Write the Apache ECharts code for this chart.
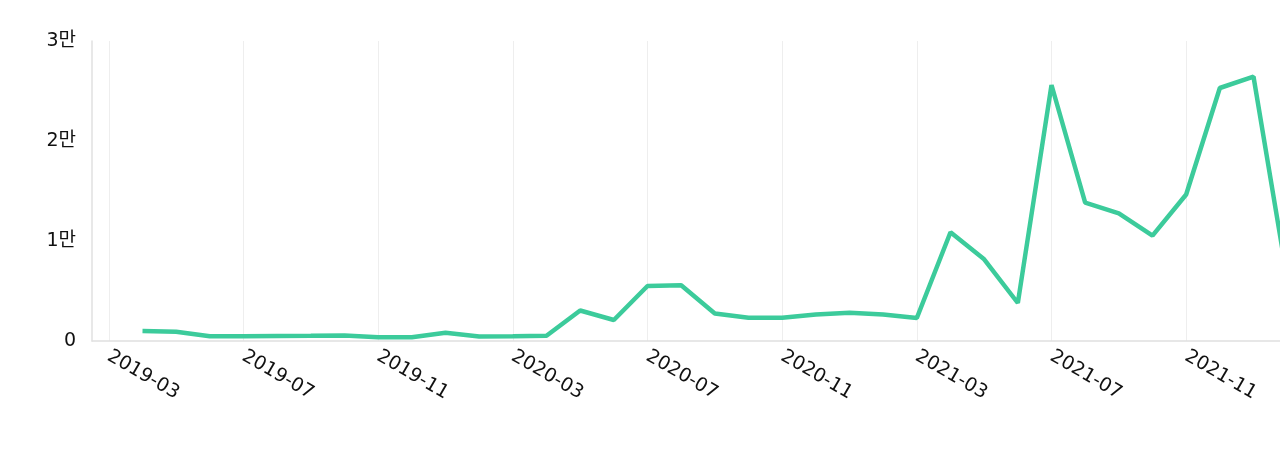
<!DOCTYPE html>
<html>
<head>
<meta charset="utf-8">
<script src="https://cdn.jsdelivr.net/npm/echarts@6/dist/echarts.min.js"></script>
<style>
html,body{margin:0;padding:0;background:#fff;overflow:hidden;width:1280px;height:454px;}
#chart{width:1304px;height:454px;}
</style>
</head>
<body>
<div id="chart"></div>
<script>
const months = ['2019-03','2019-04','2019-05','2019-06','2019-07','2019-08','2019-09','2019-10','2019-11','2019-12',
  '2020-01','2020-02','2020-03','2020-04','2020-05','2020-06','2020-07','2020-08','2020-09','2020-10','2020-11','2020-12',
  '2021-01','2021-02','2021-03','2021-04','2021-05','2021-06','2021-07','2021-08','2021-09','2021-10','2021-11','2021-12',
  '2022-01','2022-02'];
const values = [null,1000,930,480,480,500,520,560,380,380,
  820,450,470,520,3050,2100,5500,5570,2750,2320,2330,2650,
  2820,2650,2300,10870,8170,3800,25600,13830,12770,10530,14650,25300,
  26430,6300];
const yTicks = [0,10000,20000,30000];

const FONT = 'DejaVu Sans, Verdana, Noto Sans CJK KR, sans-serif';
const chart = echarts.init(document.getElementById('chart'));
chart.setOption({
  animation:false,
  grid:{left:92, top:41, bottom:113, right:0, containLabel:false},
  xAxis:{
    type:'category',
    data:months,
    boundaryGap:true,
    axisLine:{show:true, lineStyle:{color:'#e0e0e0', width:1.5}},
    axisTick:{show:false},
    axisLabel:{interval:3, rotate:-30, margin:14, color:'#111', fontSize:19, fontFamily:FONT},
    splitLine:{show:true, interval:3, alignWithLabel:true, lineStyle:{color:'#eeeeee', width:1}}
  },
  yAxis:{
    type:'value',
    min:yTicks[0], max:yTicks[yTicks.length-1], interval:10000,
    axisLine:{show:true, lineStyle:{color:'#e0e0e0', width:1.5}},
    axisTick:{show:false},
    splitLine:{show:false},
    axisLabel:{margin:16, color:'#111', fontSize:19, fontFamily:FONT,
      formatter:function(v){ return v===0 ? '0' : (v/10000)+'만'; }}
  },
  series:[{
    type:'line',
    data:values,
    showSymbol:false,
    symbol:'none',
    connectNulls:false,
    lineStyle:{color:'#3ccb9b', width:4.5},
    itemStyle:{color:'#3ccb9b'}
  }]
});
</script>
</body>
</html>
